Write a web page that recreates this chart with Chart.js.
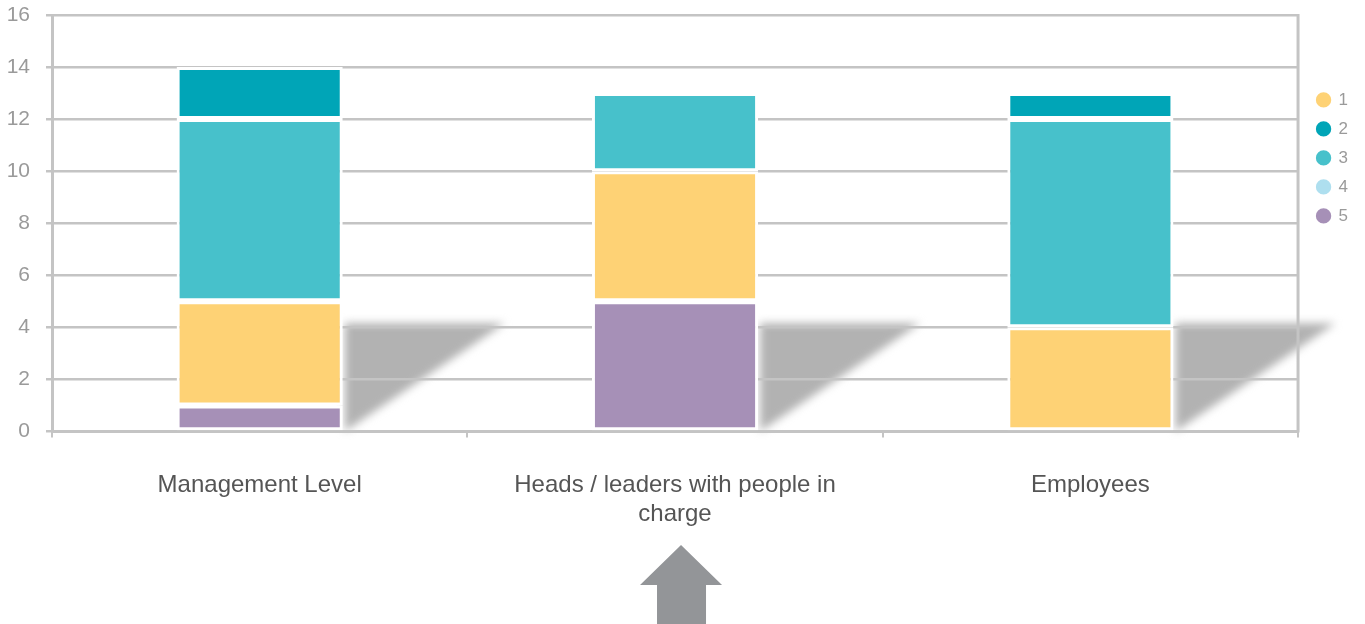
<!DOCTYPE html>
<html>
<head>
<meta charset="utf-8">
<script src="https://cdn.jsdelivr.net/npm/chart.js@4"></script>
<style>
  html, body { margin: 0; padding: 0; background: #fff; }
  #wrap { width: 1365px; height: 624px; }
</style>
</head>
<body>
<div id="wrap"><canvas id="myChart"></canvas></div>
<script>
const categories = ['Management Level', ['Heads / leaders with people in', 'charge'], 'Employees']
const series1 = [4, 5, 4]
const series2 = [2, null, 1]
const series3 = [7, 3, 8]
const series4 = [null, null, null]
const series5 = [1, 5, null]
const yTicks = [0, 2, 4, 6, 8, 10, 12, 14, 16]

const ctx = document.getElementById('myChart')

// shadows behind bars + right frame line + arrow under the middle label
const decor = {
  id: 'decor',
  afterLayout(chart) {
    // nudge legend a little to the right
    chart.legend.left += 7
    chart.legend.right += 7
  },
  beforeDraw(chart) {
    const c = chart.ctx
    const y = chart.scales.y
    const meta = chart.getDatasetMeta(0)
    c.save()
    c.filter = 'blur(4px)'
    c.fillStyle = '#b2b2b2'
    meta.data.forEach(bar => {
      const right = bar.x + bar.width / 2 + 2
      const top = y.getPixelForValue(4) - 4
      const bottom = y.getPixelForValue(0)
      c.beginPath()
      c.moveTo(right, top)
      c.lineTo(right + 160, top)
      c.lineTo(right, bottom)
      c.closePath()
      c.fill()
    })
    c.restore()
  },
  afterDraw(chart) {
    const c = chart.ctx
    const area = chart.chartArea
    c.save()
    c.strokeStyle = '#c4c4c4'
    c.lineWidth = 3
    c.beginPath()
    c.moveTo(area.right, area.top - 1)
    c.lineTo(area.right, area.bottom + 1)
    c.stroke()
    // arrow
    const cx = chart.scales.x.getPixelForValue(1) + 6
    c.fillStyle = '#939598'
    c.beginPath()
    c.moveTo(cx, 545)
    c.lineTo(cx + 41, 585)
    c.lineTo(cx + 25, 585)
    c.lineTo(cx + 25, 624)
    c.lineTo(cx - 24, 624)
    c.lineTo(cx - 24, 585)
    c.lineTo(cx - 41, 585)
    c.closePath()
    c.fill()
    c.restore()
  }
}

function ds(label, data, color, order) {
  return {
    label: label,
    data: data,
    backgroundColor: color,
    borderColor: '#ffffff',
    borderWidth: 3,
    borderSkipped: false,
    order: order,
    barPercentage: 0.8,
    categoryPercentage: 0.5,
  }
}

new Chart(ctx, {
  type: 'bar',
  data: {
    labels: categories,
    datasets: [
      ds('1', series1, '#FED275', 1),
      ds('2', series2, '#00A5B7', 3),
      ds('3', series3, '#47C1CB', 2),
      ds('4', series4, '#AEDFEF', 4),
      ds('5', series5, '#A690B7', 0),
    ]
  },
  options: {
    responsive: true,
    maintainAspectRatio: false,
    animation: false,
    layout: { padding: { top: 0, left: 0, right: 14, bottom: 61 } },
    plugins: {
      tooltip: { enabled: false },
      legend: {
        position: 'right',
        align: 'start',
        title: { display: true, text: ' ', padding: { top: 65, bottom: 0 } },
        labels: {
          usePointStyle: true,
          pointStyle: 'circle',
          boxWidth: 13,
          boxHeight: 13,
          padding: 12,
          color: '#9a9a9a',
          font: { family: 'Liberation Sans', size: 17 },
          sort: (a, b) => a.datasetIndex - b.datasetIndex,
        }
      }
    },
    scales: {
      x: {
        stacked: true,
        afterFit(axis) { axis.paddingLeft = 0; axis.paddingRight = 0 },
        grid: { display: true, drawOnChartArea: false, drawTicks: true, tickLength: 6, color: '#c4c4c4', lineWidth: 2, offset: true },
        border: { display: true, color: '#c4c4c4', width: 3 },
        ticks: { color: '#555555', padding: 34, font: { family: 'Liberation Sans', size: 24 }, maxRotation: 0 },
      },
      y: {
        stacked: true,
        min: 0,
        max: 16,
        afterBuildTicks(axis) { axis.ticks = yTicks.map(v => ({ value: v })) },
        afterFit(axis) { axis.width = 52; axis.paddingTop = 15; axis.paddingBottom = 0 },
        grid: { color: '#c4c4c4', lineWidth: 2.5, tickLength: 6 },
        border: { display: true, color: '#c4c4c4', width: 3 },
        ticks: { color: '#9a9a9a', padding: 16, font: { family: 'Liberation Sans', size: 21 } },
      }
    }
  },
  plugins: [decor]
})
</script>
</body>
</html>
